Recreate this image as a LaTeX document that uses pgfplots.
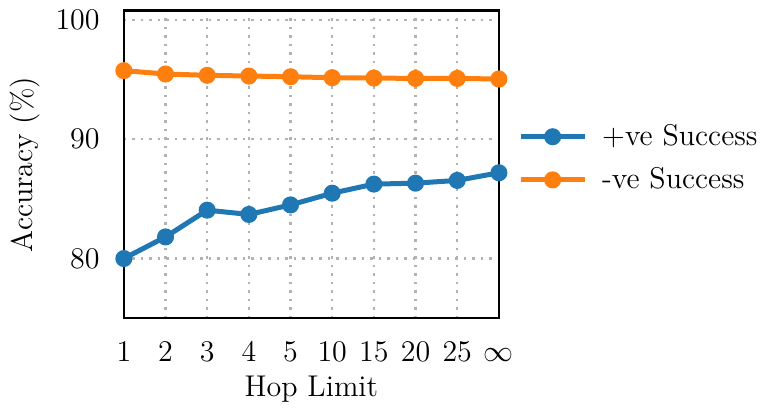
\documentclass[12pt,border=0pt]{standalone}
\usepackage{pgfplots}
\pgfplotsset{compat=1.18}

\definecolor{tabblue}{HTML}{1F77B4}
\definecolor{taborange}{HTML}{FF7F0E}

\begin{document}
\begin{tikzpicture}
\begin{axis}[
  scale only axis,
  width=150pt, height=123pt,
  xmin=0, xmax=9,
  ymin=75, ymax=100.75,
  xtick={0,1,2,3,4,5,6,7,8,9},
  xticklabels={1,2,3,4,5,10,15,20,25,$\infty$},
  ytick={80,90,100},
  major tick length=0pt,
  x tick label style={yshift=-5pt, text height=1.6ex, text depth=0.3ex},
  y tick label style={xshift=-5.5pt},
  ylabel shift=-2pt,
  xlabel shift=-4pt,
  grid=major,
  grid style={gray!60, line width=0.9pt, dash pattern=on 0.9pt off 2.5pt},
  axis line style={line width=1pt},
  xlabel={Hop Limit},
  ylabel={Accuracy (\%)},
  legend style={draw=none, fill=none, at={(1.03,0.52)}, anchor=west,
    row sep=3pt},
  legend cell align=left,
  legend image code/.code={%
    \draw[mark repeat=2, mark phase=2]
      plot coordinates {(0cm,0cm) (0.45cm,0cm) (0.9cm,0cm)};
    \path (0cm,0cm) (1.04cm,0cm);},
]
\addplot[tabblue, line width=2pt, mark=*, mark size=2.4pt,
  mark options={solid}] coordinates {
  (0,80.0) (1,81.81) (2,84.05) (3,83.69) (4,84.49)
  (5,85.47) (6,86.23) (7,86.31) (8,86.54) (9,87.18)};
\addlegendentry{+ve Success}
\addplot[taborange, line width=2pt, mark=*, mark size=2.4pt,
  mark options={solid}] coordinates {
  (0,95.73) (1,95.45) (2,95.34) (3,95.28) (4,95.22)
  (5,95.14) (6,95.11) (7,95.08) (8,95.08) (9,95.03)};
\addlegendentry{-ve Success}
\end{axis}
\end{tikzpicture}
\end{document}
